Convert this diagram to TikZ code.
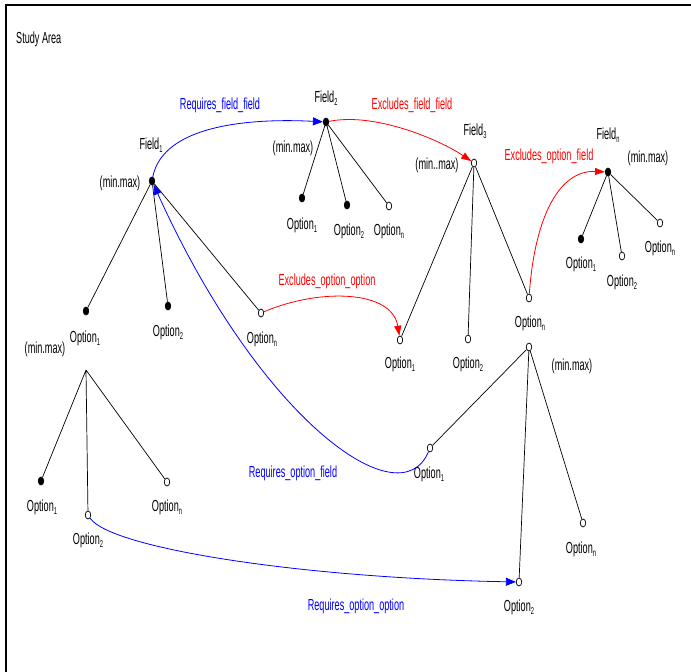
\documentclass[tikz,border=0pt]{standalone}
\usepackage{fontspec}
\setmainfont[FakeStretch=0.57]{Liberation Sans}
\usetikzlibrary{arrows.meta,shapes.geometric}
\newcommand\ix[1]{\raisebox{-3pt}{\fontsize{10}{10}\selectfont #1}}
\begin{document}
\begin{tikzpicture}[x=1pt,y=-1pt,
  fdot/.style={ellipse,draw=black,fill=black,line width=0.7pt,minimum width=5.5pt,minimum height=8pt,inner sep=0pt},
  odot/.style={ellipse,draw=black,fill=white,line width=0.7pt,minimum width=5.5pt,minimum height=8pt,inner sep=0pt},
  lbl/.style={font=\fontsize{16}{16}\selectfont,inner sep=0pt},
  bl/.style={lbl,text=blue},
  rd/.style={lbl,text=red},
  tree/.style={draw=black,line width=0.7pt},
  rq/.style={draw=blue,line width=0.8pt,-{Triangle[length=10pt,width=8pt]}},
  ex/.style={draw=red,line width=0.8pt,-{Triangle[length=10pt,width=7pt]}}]
\useasboundingbox (0,0) rectangle (691,672);
% frame
\draw[line width=1.6pt] (6,672) coordinate (fa) -- (6,5) coordinate (fb) -- (691,5) coordinate (fc);
\node[lbl,anchor=west] (title) at (16,39) {Study Area};

% Field 1
\node[fdot] (f1) at (152,181) {};
\node[lbl] (f1l) at (151,145) {Field\ix{1}};
\node[lbl] (f1m) at (120,183) {(min.max)};
\node[fdot] (f1o1) at (86,311) {};
\node[lbl] (f1o1l) at (85,338) {Option\ix{1}};
\node[fdot] (f1o2) at (168,306) {};
\node[lbl] (f1o2l) at (168,332) {Option\ix{2}};
\node[odot] (f1on) at (261,313) {};
\node[lbl] (f1onl) at (262,339) {Option\ix{n}};
\draw[tree] (f1) -- (f1o1) (f1) -- (f1o2) (f1) -- (f1on);

% subtree of Option1 of Field1
\coordinate (s1) at (86,370);
\node[lbl] (s1m) at (45,349) {(min.max)};
\node[fdot] (s1o1) at (41,481) {};
\node[lbl] (s1o1l) at (42,507) {Option\ix{1}};
\node[odot] (s1o2) at (88,515) {};
\node[lbl] (s1o2l) at (88,540) {Option\ix{2}};
\node[odot] (s1on) at (167,482) {};
\node[lbl] (s1onl) at (167,507) {Option\ix{n}};
\draw[tree] (s1) -- (s1o1) (s1) -- (s1o2) (s1) -- (s1on);

% Field 2
\node[fdot] (f2) at (326,122) {};
\node[lbl] (f2l) at (326,98) {Field\ix{2}};
\node[lbl] (f2m) at (293,148) {(min.max)};
\node[fdot] (f2o1) at (302,198) {};
\node[lbl] (f2o1l) at (302,225) {Option\ix{1}};
\node[fdot] (f2o2) at (347,205) {};
\node[lbl] (f2o2l) at (349,231) {Option\ix{2}};
\node[odot] (f2on) at (389,206) {};
\node[lbl] (f2onl) at (389,231) {Option\ix{n}};
\draw[tree] (f2) -- (f2o1) (f2) -- (f2o2) (f2) -- (f2on);

% Field 3
\node[odot] (f3) at (474,163) {};
\node[lbl] (f3l) at (475,131) {Field\ix{3}};
\node[lbl] (f3m) at (437,165) {(min..max)};
\node[odot] (f3o1) at (400,340) {};
\node[lbl] (f3o1l) at (400,364) {Option\ix{1}};
\node[odot] (f3o2) at (468,339) {};
\node[lbl] (f3o2l) at (468,364) {Option\ix{2}};
\node[odot] (f3on) at (529,298) {};
\node[lbl] (f3onl) at (530,323) {Option\ix{n}};
\draw[tree] (f3) -- (f3o1) (f3) -- (f3o2) (f3) -- (f3on);

% subtree of Option n of Field 3
\node[odot] (s2) at (529,347) {};
\node[lbl] (s2m) at (572,366) {(min.max)};
\node[odot] (s2o1) at (430,448) {};
\node[lbl] (s2o1l) at (429,474) {Option\ix{1}};
\node[odot] (s2o2) at (519,582) {};
\node[lbl] (s2o2l) at (519,607) {Option\ix{2}};
\node[odot] (s2on) at (583,523) {};
\node[lbl] (s2onl) at (581,549) {Option\ix{n}};
\draw[tree] (s2) -- (s2o1) (s2) -- (s2o2) (s2) -- (s2on);

% Field n
\node[fdot] (fn) at (608,172) {};
\node[lbl] (fnl) at (608,135) {Field\ix{n}};
\node[lbl] (fnm) at (648,158) {(min.max)};
\node[fdot] (fno1) at (581,239) {};
\node[lbl] (fno1l) at (581,264) {Option\ix{1}};
\node[odot] (fno2) at (622,256) {};
\node[lbl] (fno2l) at (622,282) {Option\ix{2}};
\node[odot] (fnon) at (660,223) {};
\node[lbl] (fnonl) at (660,248) {Option\ix{n}};
\draw[tree] (fn) -- (fno1) (fn) -- (fno2) (fn) -- (fnon);

% relations
\draw[rq] (f1) .. controls (163,125) and (250,118) .. (f2);
\node[bl] (rff) at (220,105) {Requires\_field\_field};
\draw[ex] (f2) .. controls (375,112) and (440,140) .. (f3);
\node[rd] (eff) at (412,105) {Excludes\_field\_field};
\draw[ex] (f3on) .. controls (535,215) and (560,170) .. (fn);
\node[rd] (eof) at (549,156) {Excludes\_option\_field};
\draw[ex] (f1on) .. controls (320,288) and (392,290) .. (f3o1);
\node[rd] (eoo) at (327,281) {Excludes\_option\_option};
\draw[rq] (s2o1) .. controls (400,520) and (260,420) .. (f1);
\node[bl] (rof) at (293,473) {Requires\_option\_field};
\draw[rq] (s1o2) .. controls (110,548) and (300,578) .. (s2o2);
\node[bl] (roo) at (356,606) {Requires\_option\_option};
\end{tikzpicture}
\end{document}
